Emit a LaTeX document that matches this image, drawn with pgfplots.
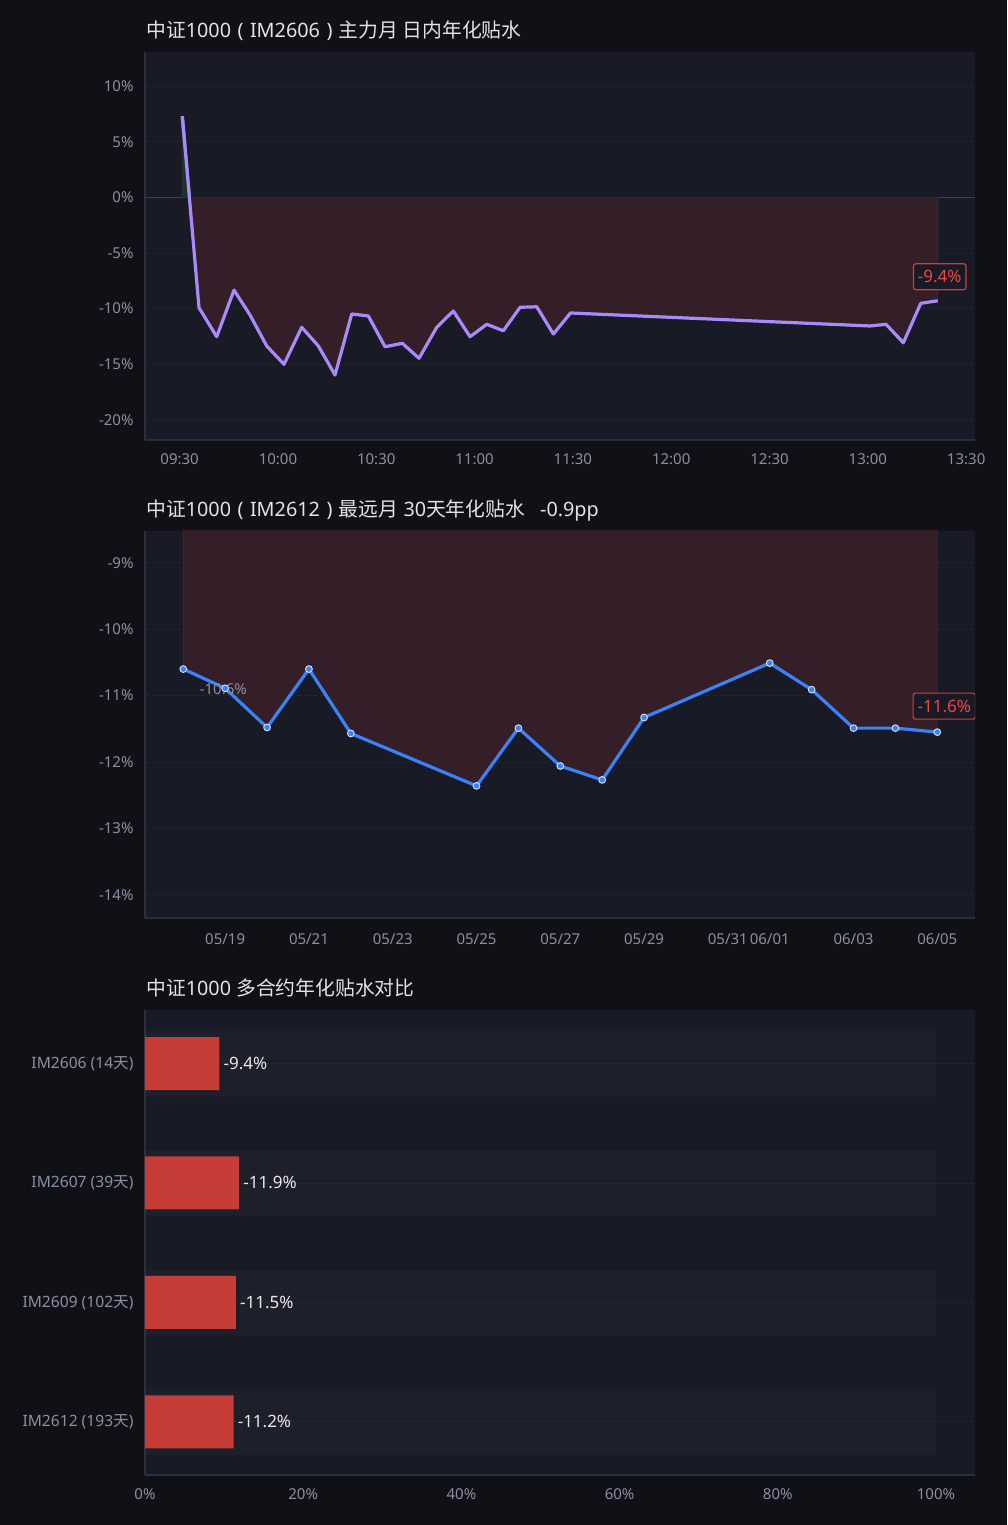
\documentclass[border=0pt]{standalone}
\usepackage{fontspec}
\setmainfont{Noto Sans}
\newfontfamily\cjk{Noto Sans CJK SC}
\usepackage{pgfplots}
\pgfplotsset{compat=1.18}

\definecolor{pagebg}{HTML}{0F1116}
\definecolor{axisbg}{HTML}{181B26}
\definecolor{axisline}{HTML}{2B2E3B}
\definecolor{gridc}{HTML}{262936}
\definecolor{ticktext}{HTML}{8B8FA3}
\definecolor{titlec}{HTML}{E2E3E8}
\definecolor{negfill}{HTML}{341F29}
\definecolor{posfill}{HTML}{173526}
\definecolor{fillborder}{HTML}{4A2631}
\definecolor{zeroc}{HTML}{3E414E}
\definecolor{purp}{HTML}{A78BFA}
\definecolor{blu}{HTML}{3B82F6}
\definecolor{markstroke}{HTML}{D6E4FF}
\definecolor{barred}{HTML}{C53D36}
\definecolor{boxred}{HTML}{D63A30}
\definecolor{redtext}{HTML}{EF4444}
\definecolor{valtext}{HTML}{E5E7EB}
\definecolor{annot}{HTML}{8E8E9C}

\newcommand{\titlefont}{\fontsize{19.8}{23}\selectfont}
\newcommand{\tickfont}{\fontsize{15}{18}\selectfont}
\newcommand{\lp}{\hspace{6.5pt}(\hspace{6.5pt}}
\newcommand{\rp}{\hspace{6.5pt})\hspace{6.5pt}}

\pgfplotstableread{
x y
0.82 7.31
5.92 -9.93
11.32 -12.54
16.60 -8.34
21.48 -10.58
26.58 -13.37
31.86 -15.02
37.26 -11.69
42.33 -13.37
47.42 -15.98
52.52 -10.49
57.58 -10.67
62.68 -13.44
67.96 -13.13
73.05 -14.48
78.46 -11.69
83.52 -10.22
88.62 -12.54
93.71 -11.42
98.78 -12.00
103.88 -9.89
108.97 -9.84
114.04 -12.29
119.29 -10.40
210.68 -11.57
215.56 -11.42
220.84 -13.08
226.15 -9.53
231.34 -9.30
}\intraday

\pgfplotstableread{
x y
0 -10.60
1 -10.89
2 -11.48
3 -10.60
4 -11.57
7 -12.36
8 -11.49
9 -12.06
10 -12.27
11 -11.33
14 -10.51
15 -10.91
16 -11.49
17 -11.49
18 -11.55
}\farmonth

\pgfplotsset{
  base/.style={
    scale only axis, width=830pt, anchor=south west,
    axis background/.style={fill=axisbg},
    axis x line*=bottom, axis y line*=left,
    axis line style={draw=axisline, line width=1.6pt},
    major tick length=0pt, tick style={draw=none},
    ticklabel style={font=\tickfont, text=ticktext},
    /pgf/number format/assume math mode=true,
    ymajorgrids,
    grid style={draw=gridc, dash pattern=on 4pt off 4pt, line width=0.8pt},
    yticklabel style={xshift=-8pt},
    xticklabel style={yshift=-10.5pt},
  }
}

\begin{document}
\begin{tikzpicture}
\fill[pagebg] (0pt,0pt) rectangle (1007pt,1525pt);

% titles
\node[anchor=base west, inner sep=0, font=\titlefont, text=titlec] at (146pt,1487pt)
  {{\cjk 中证}1000\lp IM2606\rp{\cjk 主力月 日内年化贴水}};
\node[anchor=base west, inner sep=0, font=\titlefont, text=titlec] at (146pt,1008pt)
  {{\cjk 中证}1000\lp IM2612\rp{\cjk 最远月} 30{\cjk 天年化贴水}\hspace{15pt}-0.9pp};
\node[anchor=base west, inner sep=0, font=\titlefont, text=titlec] at (146pt,529pt)
  {{\cjk 中证}1000 {\cjk 多合约年化贴水对比}};

% ---------- panel 1 ----------
\begin{axis}[base, at={(145pt,1085pt)}, height=388pt,
  xmin=-10.56, xmax=242.7, ymin=-21.83, ymax=13.09,
  xtick={0,30,60,90,120,150,180,210,240},
  xticklabels={09:30,10:00,10:30,11:00,11:30,12:00,12:30,13:00,13:30},
  ytick={-20,-15,-10,-5,0,5,10},
  yticklabels={-20\%,-15\%,-10\%,-5\%,0\%,5\%,10\%},
]
\addplot[fill=negfill, draw=fillborder, line width=0.8pt, forget plot]
  table[x=x,y=y] {\intraday} -- (axis cs:231.34,0) -- (axis cs:0.82,0) -- cycle;
\addplot[draw=zeroc, line width=1pt, forget plot] coordinates {(-10.56,0) (0.82,0)};
\addplot[draw=zeroc, line width=1pt, forget plot] coordinates {(231.34,0) (242.7,0)};
\addplot[draw=purp, line width=3.2pt, line join=round, forget plot] table[x=x,y=y] {\intraday};
\node[draw=boxred, line width=1.2pt, rounded corners=2.5pt, fill=axisbg, text=redtext,
  font=\fontsize{17}{20}\selectfont, inner xsep=4.5pt, inner ysep=0pt, minimum height=26pt]
  at (axis cs:231.34,-9.30) [xshift=2pt, yshift=24pt] {-9.4\%};
% positive part: clip to y >= 0
\clip (axis cs:-20,0) rectangle (axis cs:260,40);
\addplot[fill=posfill, draw=none, forget plot]
  table[x=x,y=y] {\intraday} -- (axis cs:231.34,0) -- (axis cs:0.82,0) -- cycle;
\addplot[draw=purp, line width=3.2pt, line join=round] table[x=x,y=y] {\intraday};
\end{axis}

% ---------- panel 2 ----------
\begin{axis}[base, at={(145pt,607pt)}, height=387pt,
  xmin=-0.914, xmax=18.90, ymin=-14.35, ymax=-8.52,
  xtick={1,3,5,7,9,11,13,14,16,18},
  xticklabels={05/19,05/21,05/23,05/25,05/27,05/29,05/31,06/01,06/03,06/05},
  xticklabel style={yshift=-1.5pt},
  ytick={-14,-13,-12,-11,-10,-9},
  yticklabels={-14\%,-13\%,-12\%,-11\%,-10\%,-9\%},
]
\addplot[fill=negfill, draw=fillborder, line width=0.8pt, forget plot]
  table[x=x,y=y] {\farmonth} -- (axis cs:18,0) -- (axis cs:0,0) -- cycle;
\addplot[draw=blu, line width=3.2pt, line join=round, mark=*, mark size=3.4pt,
  mark options={fill=blu, draw=markstroke, line width=0.9pt}] table[x=x,y=y] {\farmonth};
\node[text=annot, font=\fontsize{15}{18}\selectfont, inner sep=0]
  at (axis cs:0,-10.60) [xshift=40pt, yshift=-20pt] {-10.6\%};
\node[draw=boxred, line width=1.2pt, rounded corners=2.5pt, fill=axisbg, text=redtext,
  font=\fontsize{17}{20}\selectfont, inner xsep=4.5pt, inner ysep=0pt, minimum height=26pt]
  at (axis cs:18,-11.55) [xshift=7pt, yshift=26pt] {-11.6\%};
\end{axis}

% ---------- panel 3 ----------
\begin{axis}[base, at={(145pt,50pt)}, height=465pt,
  xmin=0, xmax=104.93, ymin=-0.448, ymax=3.445, y dir=reverse,
  ytick={0,1,2,3},
  yticklabels={IM2606 (14{\cjk 天}),IM2607 (39{\cjk 天}),IM2609 (102{\cjk 天}),IM2612 (193{\cjk 天})},
  yticklabel style={font=\fontsize{15.6}{18}\selectfont},
  xtick={0,20,40,60,80,100},
  xticklabels={0\%,20\%,40\%,60\%,80\%,100\%},
]
\addplot[xbar, bar width=66pt, bar shift=0pt, fill=white, fill opacity=0.025, draw=none, forget plot]
  coordinates {(100,0) (100,1) (100,2) (100,3)};
\addplot[xbar, bar width=53pt, bar shift=0pt, fill=barred, draw=none]
  coordinates {(9.4,0) (11.9,1) (11.5,2) (11.2,3)};
\node[anchor=west, inner sep=0, xshift=4pt, text=valtext, font=\fontsize{17}{20}\selectfont] at (axis cs:9.4,0) {-9.4\%};
\node[anchor=west, inner sep=0, xshift=4pt, text=valtext, font=\fontsize{17}{20}\selectfont] at (axis cs:11.9,1) {-11.9\%};
\node[anchor=west, inner sep=0, xshift=4pt, text=valtext, font=\fontsize{17}{20}\selectfont] at (axis cs:11.5,2) {-11.5\%};
\node[anchor=west, inner sep=0, xshift=4pt, text=valtext, font=\fontsize{17}{20}\selectfont] at (axis cs:11.2,3) {-11.2\%};
\end{axis}

\pgfresetboundingbox
\path[use as bounding box] (0pt,0pt) rectangle (1007pt,1525pt);
\end{tikzpicture}
\end{document}
